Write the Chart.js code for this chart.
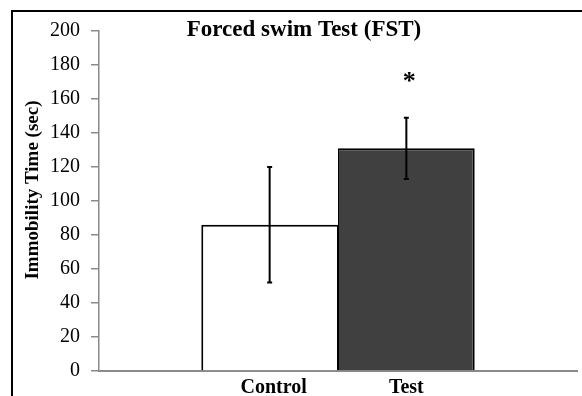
<!DOCTYPE html>
<html>
<head>
<meta charset="utf-8">
<script src="https://cdn.jsdelivr.net/npm/chart.js@4.4.1/dist/chart.umd.min.js"></script>
<style>
  html, body { margin: 0; padding: 0; background: #fff; }
  #wrap { position: relative; width: 582px; height: 396px; overflow: hidden; }
  #frame { position: absolute; left: 11px; top: 10px; right: -5px; bottom: -5px;
           border-left: 2px solid #000; border-top: 2px solid #000; }
  canvas { position: absolute; left: 0; top: 0; }
</style>
</head>
<body>
<div id="wrap">
  <div id="frame"></div>
  <canvas id="fstChart" width="582" height="396"></canvas>
</div>
<script>
// Data
const groups = ['Control', 'Test'];
const meanTime = [86, 131];
const errTime = [34, 18];
const barFill = ['#ffffff', '#404040'];
const yTicks = [0, 20, 40, 60, 80, 100, 120, 140, 160, 180, 200];
const chartTitle = 'Forced swim Test (FST)';
const yTitle = 'Immobility Time (sec)';
const sigMark = ['', '*'];

const SERIF = '"Liberation Serif", "Times New Roman", serif';
const AXIS_GREY = '#8a8a8a';

// one category, one dataset per group (bars sit side by side like the original)
const datasets = groups.map((g, i) => ({
    label: g,
    data: [meanTime[i]],
    backgroundColor: barFill[i],
    borderColor: '#000',
    borderWidth: i === 0 ? { left: 2, top: 2, right: 1, bottom: 0 } : { left: 1, top: 2, right: 2, bottom: 0 },
    categoryPercentage: 0.572,
    barPercentage: 1.0
}));

const extrasPlugin = {
    id: 'fstExtras',
    afterDatasetsDraw(chart) {
        const ctx = chart.ctx;
        const y = chart.scales.y;
        const area = chart.chartArea;
        ctx.save();

        // error bars
        chart.data.datasets.forEach((ds, i) => {
            const bar = chart.getDatasetMeta(i).data[0];
            const yHi = y.getPixelForValue(meanTime[i] + errTime[i]);
            const yLo = y.getPixelForValue(meanTime[i] - errTime[i]);
            ctx.strokeStyle = '#000';
            ctx.lineWidth = 2;
            ctx.beginPath();
            ctx.moveTo(bar.x, yHi); ctx.lineTo(bar.x, yLo);
            ctx.moveTo(bar.x - 2.5, yHi); ctx.lineTo(bar.x + 2.5, yHi);
            ctx.moveTo(bar.x - 2.5, yLo); ctx.lineTo(bar.x + 2.5, yLo);
            ctx.stroke();

            // significance mark
            if (sigMark[i]) {
                ctx.fillStyle = '#000';
                ctx.font = 'bold 26px ' + SERIF;
                ctx.textAlign = 'center';
                ctx.textBaseline = 'middle';
                ctx.fillText(sigMark[i], bar.x + 3, yHi - 35);
            }

            // group label under the bar
            ctx.fillStyle = '#000';
            ctx.font = 'bold 20px ' + SERIF;
            ctx.textAlign = 'center';
            ctx.textBaseline = 'alphabetic';
            ctx.fillText(groups[i], bar.x + (i === 0 ? 4 : 0), area.bottom + 22);
        });

        // title inside plot area
        ctx.fillStyle = '#000';
        ctx.font = 'bold 23px ' + SERIF;
        ctx.textAlign = 'center';
        ctx.textBaseline = 'alphabetic';
        ctx.fillText(chartTitle, 304, 36);

        // y axis title
        ctx.translate(33, 190);
        ctx.rotate(-Math.PI / 2);
        ctx.font = 'bold 19px ' + SERIF;
        ctx.textBaseline = 'middle';
        ctx.fillText(yTitle, 0, 0);
        ctx.restore();
    }
};

new Chart(document.getElementById('fstChart'), {
    type: 'bar',
    data: { labels: [''], datasets: datasets },
    options: {
        responsive: false,
        animation: false,
        layout: { padding: { top: 31, right: 5, bottom: 17, left: 0 } },
        plugins: { legend: { display: false }, tooltip: { enabled: false } },
        scales: {
            x: {
                grid: { display: false },
                border: { color: AXIS_GREY, width: 2 },
                ticks: { display: false }
            },
            y: {
                min: 0,
                max: 200,
                afterFit: (scale) => { scale.width = 99; },
                afterBuildTicks: (scale) => { scale.ticks = yTicks.map(v => ({ value: v })); },
                grid: { drawOnChartArea: false, drawTicks: true, tickLength: 8, color: AXIS_GREY, lineWidth: 1.5 },
                border: { color: AXIS_GREY, width: 1.5 },
                ticks: { color: '#000', padding: 11, font: { family: SERIF, size: 20 } }
            }
        }
    },
    plugins: [extrasPlugin]
});
</script>
</body>
</html>
